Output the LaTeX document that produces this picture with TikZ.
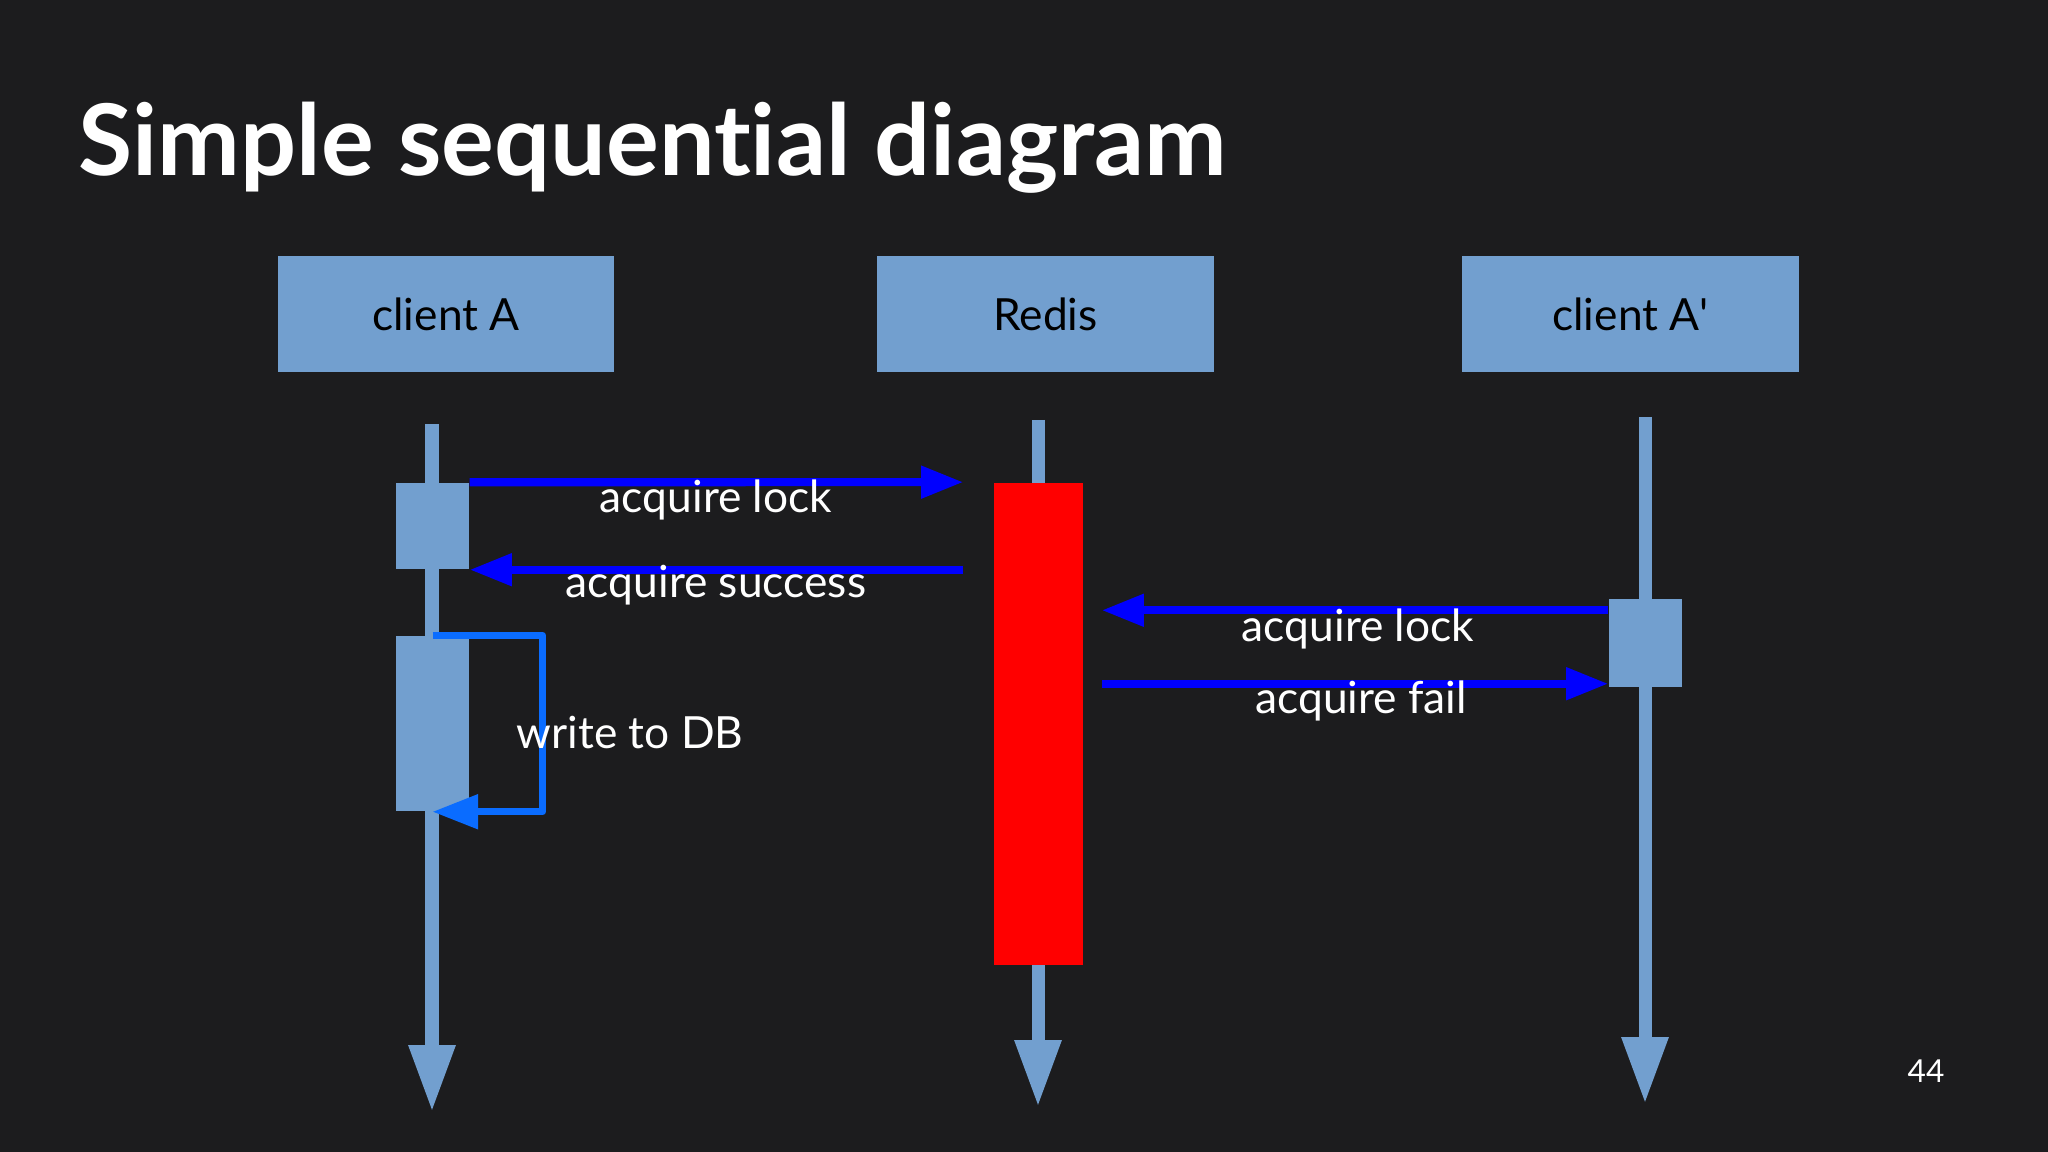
\documentclass[tikz,border=0pt]{standalone}
\usepackage{fontspec}
\setmainfont{Lato}[Ligatures={TeX,NoCommon}]
\usetikzlibrary{arrows.meta}
\definecolor{slidebg}{HTML}{1C1C1E}
\definecolor{boxblue}{HTML}{729FCF}
\definecolor{msgblue}{HTML}{0000FF}
\definecolor{loopblue}{HTML}{0A6CFF}
\definecolor{lockred}{HTML}{FF0000}
\begin{document}
\begin{tikzpicture}[
    x=0.01cm, y=-0.01cm,
    every node/.style={font=\fontsize{12.6}{15}\selectfont},
    actor/.style={fill=boxblue, minimum width=3.36cm, minimum height=1.16cm, inner sep=0pt, text=black},
    activity/.style={fill=boxblue, minimum width=0.73cm, inner sep=0pt},
    lifeline/.style={draw=boxblue, line width=3.7pt, -{Triangle[length=19pt,width=12.4pt]}},
    msg/.style={draw=msgblue, line width=2.3pt, -{Triangle[length=12pt,width=8.8pt]}},
    selfcall/.style={draw=loopblue, line width=2.1pt, line join=round, -{Triangle[length=13pt,width=9.5pt]}},
    msgtext/.style={text=white, inner sep=0pt}
  ]
  \fill[slidebg] (0,0) rectangle (2048,1152);
  \useasboundingbox (0,0) rectangle (2048,1152);

  \node[anchor=base west, text=white, inner sep=0pt, font=\fontsize{28.1}{33}\selectfont\bfseries] (title) at (78,176) {Simple sequential diagram};

  % participants
  \node[actor] (clientA) at (446,314) {client A};
  \node[actor] (redis) at (1045.5,314) {Redis};
  \node[actor] (clientB) at (1630.5,314) {client A\textquotesingle};

  % lifelines
  \coordinate (topA) at (432,424);   \coordinate (endA) at (432,1112);
  \coordinate (topR) at (1038,420);  \coordinate (endR) at (1038,1107);
  \coordinate (topB) at (1645,417);  \coordinate (endB) at (1645,1104);
  \draw[lifeline] (topA) -- (endA);
  \draw[lifeline] (topR) -- (endR);
  \draw[lifeline] (topB) -- (endB);

  % activations
  \node[activity, minimum height=0.86cm] (actA1) at (432.5,526) {};
  \node[activity, minimum height=1.75cm] (actA2) at (432.5,723.5) {};
  \node[fill=lockred, minimum width=0.89cm, minimum height=4.82cm, inner sep=0pt] (lock) at (1038.5,724) {};
  \node[activity, minimum height=0.88cm] (actB) at (1645.5,643) {};

  % messages
  \draw[msg] (actA1.north east) -- ([xshift=-0.3cm]lock.north west);
  \draw[msg] ([xshift=-0.3cm]lock.west |- actA1.south) -- (actA1.south east);
  \path ([yshift=-0.12cm]actB.north west) coordinate (m3);
  \path ([yshift=0.04cm]actB.south west) coordinate (m4);
  \draw[msg] (m3) -- ([xshift=0.18cm]lock.east |- m3);
  \draw[msg] ([xshift=0.18cm]lock.east |- m4) -- (m4);
  \draw[selfcall] (actA2.north) -- ([xshift=0.73cm]actA2.north east) |- (actA2.south);

  \node[msgtext] (lbl1) at (716,500) {acquire lock};
  \node[msgtext] (lbl2) at (716,585) {acquire success};
  \node[msgtext] (lbl3) at (1358,629) {acquire lock};
  \node[msgtext] (lbl4) at (1361,701) {acquire fail};
  \node[msgtext, anchor=west] (lbl5) at (516,733) {write to DB};

  \node[msgtext, font=\fontsize{9}{11}\selectfont] (page) at (1926,1071) {44};
\end{tikzpicture}
\end{document}
